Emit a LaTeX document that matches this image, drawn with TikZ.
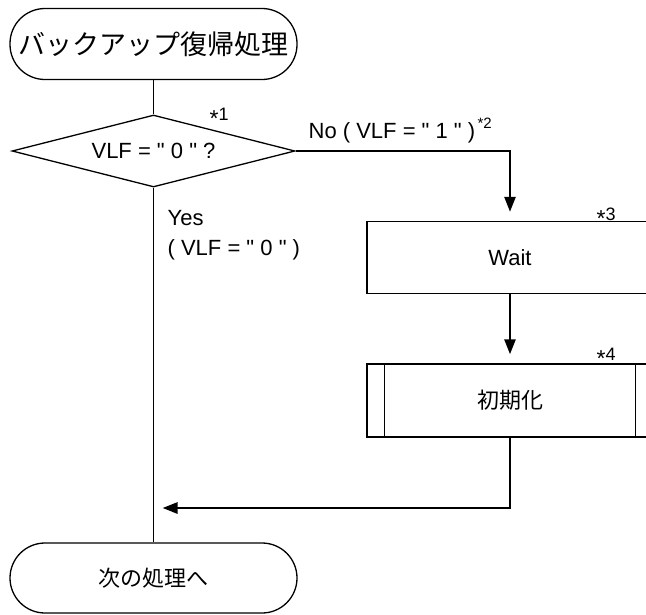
\documentclass[tikz,border=0pt]{standalone}
\usepackage{fontspec}
\setmainfont{Liberation Sans}[Ligatures=TeXOff]
\newfontfamily\jp{Noto Sans CJK JP}
\usepackage{tikz}
\usetikzlibrary{shapes.geometric}
\usetikzlibrary{arrows.meta}

\newcommand{\mystar}{\raisebox{-6pt}{\fontsize{23}{23}\selectfont *}}

\tikzset{
  term/.style={draw, rectangle, rounded corners=35pt, minimum width=287pt, minimum height=71pt, inner sep=0pt},
  decision/.style={draw, diamond, aspect=3.9, minimum width=283pt, minimum height=72pt, inner sep=0pt},
  proc/.style={draw, rectangle, minimum width=286pt, minimum height=72pt, inner sep=0pt},
  flow/.style={line width=2.6pt, -{Triangle[length=15pt,width=11pt]}, shorten >=9pt},
  lbl/.style={anchor=base west, inner sep=0pt, font=\fontsize{22}{26}\selectfont},
  note/.style={anchor=base west, inner sep=0pt, font=\fontsize{18}{20}\selectfont},
}

\begin{document}
\begin{tikzpicture}[x=1pt, y=-1pt, line width=1.3pt]
    \useasboundingbox (0,0) rectangle (646,614);
    \node[term] (start) at (153.5, 44) {\jp\fontsize{27}{30}\selectfont バックアップ復帰処理};
    \node[decision, font=\fontsize{22}{26}\selectfont] (dec) at (153.5, 151) {VLF = " 0 " ?};
    \node[proc, font=\fontsize{22}{26}\selectfont] (wait) at (510, 257.5) {Wait};
    \node[proc, minimum height=73pt, font=\jp\fontsize{22}{26}\selectfont] (init) at (510, 400.5) {初期化};
    \node[term, minimum height=70pt] (stop) at (153.5, 578) {\jp\fontsize{22}{26}\selectfont 次の処理へ};
    \coordinate (join) at (153.5, 508);
    % labels
    \node[note] (n1) at (209, 120) {\mystar1};
    \node[note, font=\fontsize{15}{16}\selectfont] (n2) at (477, 128) {*2};
    \node[note] (n3) at (596, 220) {\mystar3};
    \node[note] (n4) at (596, 360) {\mystar4};
    \node[lbl] (no) at (308, 138) {No ( VLF = " 1 " )};
    \node[lbl] (yes) at (167, 225) {Yes};
    \node[lbl] (yes2) at (167, 255) {( VLF = " 0 " )};
    % predefined process sides
    \draw ([xshift=18pt]init.north west) -- ([xshift=18pt]init.south west);
    \draw ([xshift=-18pt]init.north east) -- ([xshift=-18pt]init.south east);
    % connectors
    \draw (start) -- (dec);
    \draw (dec.south) -- (stop.north);
    \draw[flow] (dec.east) -| (wait.north);
    \draw[flow] (wait) -- (init);
    \draw[flow] (init.south) |- (join);
  \end{tikzpicture}
\end{document}
